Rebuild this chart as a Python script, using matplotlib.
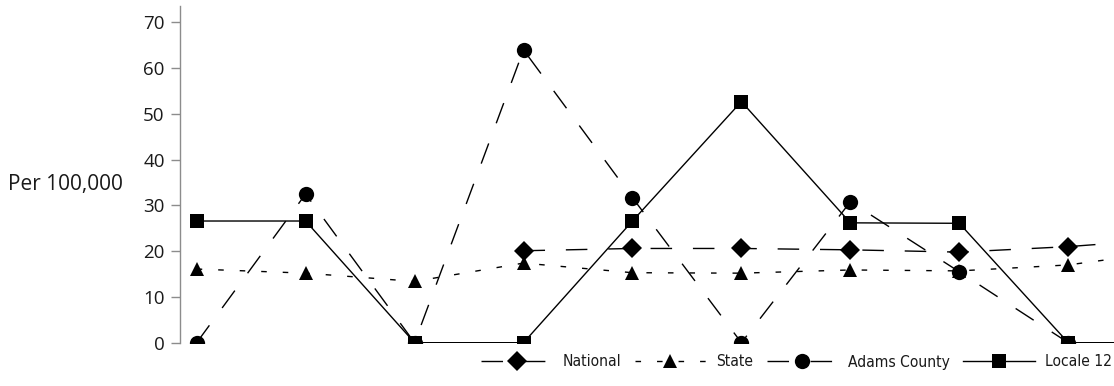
import numpy as np
import matplotlib
matplotlib.use("Agg")
import matplotlib.pyplot as plt
from matplotlib import font_manager as fm

# ---- data ----
periods = list(range(10))
national = [np.nan, np.nan, np.nan, 20.1, 20.6, 20.6, 20.3, 19.8, 21.0, 22.8]
state = [16.1, 15.2, 13.4, 17.4, 15.3, 15.2, 15.9, 15.7, 17.0, 20.2]
adams = [0.0, 32.5, 0.0, 64.0, 31.7, 0.0, 30.8, 15.5, 0.0, 0.0]
locale12 = [26.6, 26.6, 0.0, 0.0, 26.6, 52.7, 26.2, 26.1, 0.0, 0.0]
series_names = ["National", "State", "Adams County", "Locale 12"]
y_ticks = [0, 10, 20, 30, 40, 50, 60, 70]
y_label = "Per 100,000"


def legend_font():
    fl = fm.fontManager.ttflist
    for f in fl:
        if f.name == "Liberation Sans Narrow" and f.style == "normal" and f.weight in (400, "normal"):
            return fm.FontProperties(fname=f.fname, size=12.5)
    for f in fl:
        if f.name in ("DejaVu Sans Condensed",) or (
                f.name == "DejaVu Sans" and "condensed" in str(f.stretch).lower()):
            if f.style == "normal" and f.weight in (400, "normal", "book"):
                return fm.FontProperties(fname=f.fname, size=11.2)
    for f in fl:
        if "Condensed" in f.name or "Narrow" in f.name:
            if f.style == "normal" and f.weight in (400, "normal"):
                return fm.FontProperties(fname=f.fname, size=11.5)
    return fm.FontProperties(family=["Liberation Sans", "DejaVu Sans"], size=11)


W, H = 1114, 386
fig = plt.figure(figsize=(W / 100, H / 100), dpi=100)
ax = fig.add_axes([180 / W, 1 - 342.7 / H, 1 - 180 / W, (342.7 - 6) / H])

lw = 1.0
styles = [
    dict(marker="D", ms=9.8, ls=(0, (15.5, 15))),
    dict(marker="^", ms=10, ls=(0, (4, 11.5))),
    dict(marker="o", ms=11, ls=(0, (15.5, 15.5))),
    dict(marker="s", ms=9.6, ls="-"),
]
data = [national, state, adams, locale12]
handles = []
for name, vals, st in zip(series_names, data, styles):
    line, = ax.plot(periods, vals, color="black", lw=lw, linestyle=st["ls"],
                    marker=st["marker"], ms=st["ms"], mfc="black", mec="black",
                    mew=0, label=name)
    handles.append(line)

ax.set_xlim(-0.153, 8.42)
ax.set_ylim(0, 73.6)
ax.set_yticks(y_ticks)
ax.set_xticks([])
for s in ["top", "right", "bottom"]:
    ax.spines[s].set_visible(False)
ax.spines["left"].set_color("#8c8c8c")
ax.spines["left"].set_linewidth(1.0)
ax.tick_params(axis="y", direction="out", length=6.5, width=1.0, color="#8c8c8c",
               pad=4.5, labelsize=13.5, labelcolor="#1a1a1a")
for lab in ax.get_yticklabels():
    lab.set_family(["Open Sans", "DejaVu Sans"])

fig.text(8 / W, 1 - 185 / H, y_label, ha="left", va="center", fontsize=15,
         family=["Open Sans", "DejaVu Sans"], color="#1a1a1a")

leg = fig.legend(handles=handles, loc="center right",
                 bbox_to_anchor=(1112 / W, 1 - 362 / H), ncol=4, frameon=False,
                 borderpad=0, borderaxespad=0, handlelength=4.6, handletextpad=0.65,
                 columnspacing=0.85, prop=legend_font())
for t in leg.get_texts():
    t.set_color("#1a1a1a")

fig.savefig("out.png", dpi=100)
